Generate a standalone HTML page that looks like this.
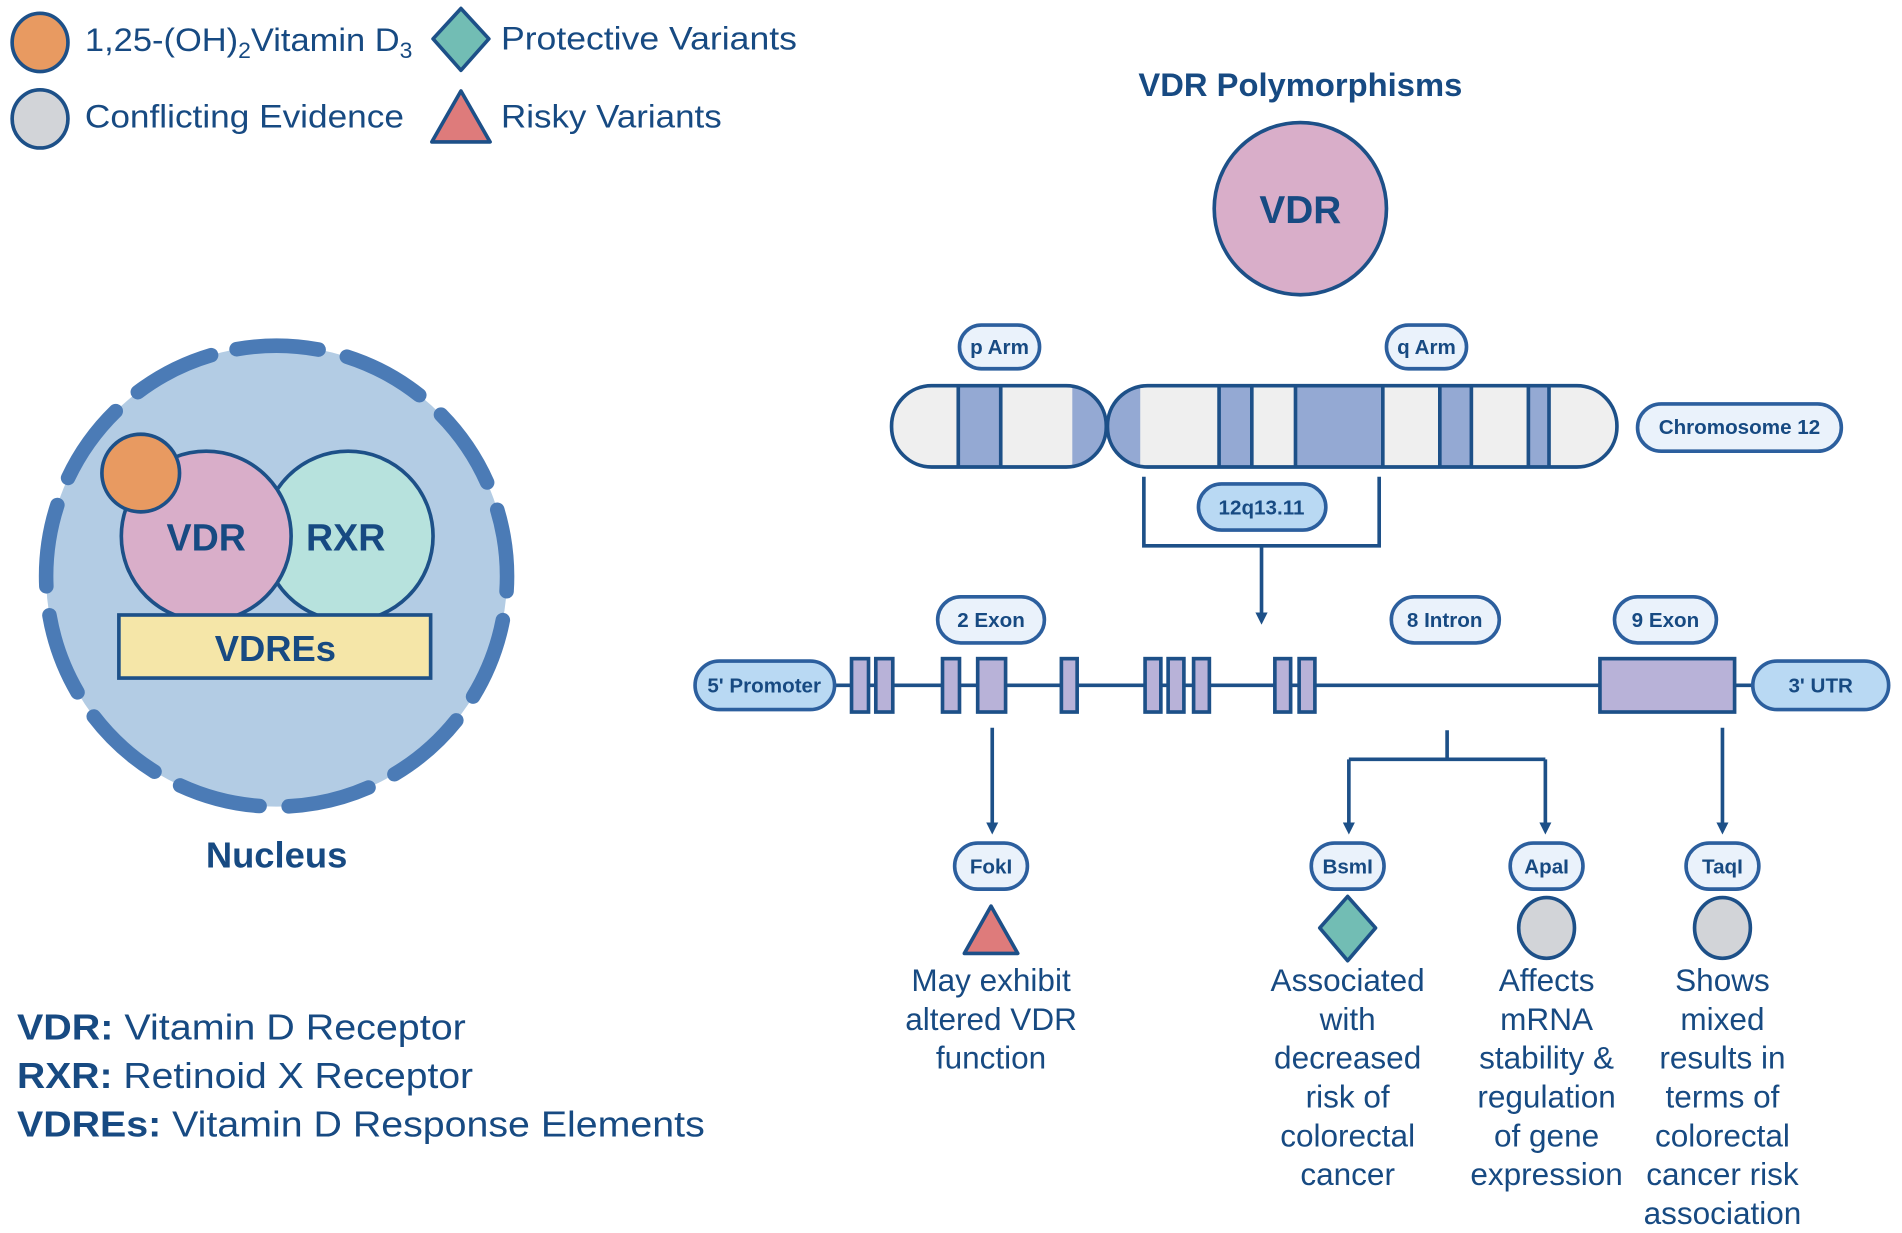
<!DOCTYPE html>
<html><head><meta charset="utf-8"><style>
html,body{margin:0;padding:0;background:#fff;}
svg{display:block;}
text{font-family:"Liberation Sans",sans-serif;fill:#174a82;}
.b{font-weight:bold;}
.pill{fill:#eaf2fb;stroke:#2c5f9e;stroke-width:3;}
.pillb{fill:#b9d9f3;stroke:#2c5f9e;stroke-width:3;}
.ln{stroke:#1d5088;stroke-width:3;fill:none;}
.ex{fill:#b8b2d8;stroke:#1d5088;stroke-width:3;}
.pl{font-size:17px;font-weight:bold;text-anchor:middle;}
.d{font-size:26px;text-anchor:middle;}
</style></head><body>
<svg width="1902" height="1233" viewBox="0 0 1568 1016.5" xmlns="http://www.w3.org/2000/svg">
<defs><marker id="ar" markerWidth="10" markerHeight="10" refX="5" refY="5" orient="auto" markerUnits="userSpaceOnUse" viewBox="0 0 10 10"><path d="M0,0 L10,5 L0,10z" fill="#1d5088"/></marker></defs>
<!-- legend -->
<ellipse cx="33" cy="35" rx="23" ry="24" fill="#e89a61" stroke="#1d5088" stroke-width="3"/>
<text x="70" y="42" font-size="27" textLength="270" lengthAdjust="spacingAndGlyphs">1,25-(OH)<tspan font-size="18" dy="6">2</tspan><tspan dy="-6">Vitamin D</tspan><tspan font-size="18" dy="6">3</tspan></text>
<path d="M380,7 L403,32 L380,58 L357,32z" fill="#72bdb4" stroke="#1d5088" stroke-width="3" stroke-linejoin="round"/>
<text x="413" y="41" font-size="27" textLength="244" lengthAdjust="spacingAndGlyphs">Protective Variants</text>
<ellipse cx="33" cy="98" rx="23" ry="24" fill="#d2d4d8" stroke="#1d5088" stroke-width="3"/>
<text x="70" y="105" font-size="27" textLength="263" lengthAdjust="spacingAndGlyphs">Conflicting Evidence</text>
<path d="M380,75 L404,117 L356,117z" fill="#de7b7b" stroke="#1d5088" stroke-width="3" stroke-linejoin="round"/>
<text x="413" y="105" font-size="27" textLength="182" lengthAdjust="spacingAndGlyphs">Risky Variants</text>
<!-- nucleus -->
<circle cx="228" cy="475" r="190" fill="#b3cce4"/>
<circle cx="228" cy="475" r="190" fill="none" stroke="#4b7bb6" stroke-width="12" stroke-linecap="round" stroke-dasharray="68 24" transform="rotate(-100 228 475)"/>
<circle cx="287" cy="442" r="70" fill="#b7e2dd" stroke="#1d5088" stroke-width="3"/>
<circle cx="170" cy="442" r="70" fill="#d9aec9" stroke="#1d5088" stroke-width="3"/>
<circle cx="116" cy="390" r="32" fill="#e89a61" stroke="#1d5088" stroke-width="3"/>
<rect x="98" y="507" width="257" height="52" fill="#f5e6a8" stroke="#1d5088" stroke-width="3"/>
<text class="b" x="170" y="454" font-size="31" text-anchor="middle">VDR</text>
<text class="b" x="285" y="454" font-size="31" text-anchor="middle">RXR</text>
<text class="b" x="227" y="545" font-size="30" text-anchor="middle">VDREs</text>
<text class="b" x="228" y="715" font-size="30" text-anchor="middle">Nucleus</text>
<text x="14" y="857" font-size="30" textLength="370" lengthAdjust="spacingAndGlyphs"><tspan class="b">VDR:</tspan> Vitamin D Receptor</text>
<text x="14" y="897" font-size="30" textLength="376" lengthAdjust="spacingAndGlyphs"><tspan class="b">RXR:</tspan> Retinoid X Receptor</text>
<text x="14" y="937" font-size="30" textLength="567" lengthAdjust="spacingAndGlyphs"><tspan class="b">VDREs:</tspan> Vitamin D Response Elements</text>
<!-- right -->
<text class="b" x="1072" y="79" font-size="27" text-anchor="middle">VDR Polymorphisms</text>
<circle cx="1072" cy="172" r="71" fill="#d9aec9" stroke="#1d5088" stroke-width="3"/>
<text class="b" x="1072" y="184" font-size="32" text-anchor="middle">VDR</text>
<rect class="pill" x="791" y="268" width="66" height="36" rx="18"/><text class="pl" x="824" y="292">p Arm</text>
<rect class="pill" x="1143" y="268" width="66" height="36" rx="18"/><text class="pl" x="1176" y="292">q Arm</text>
<clipPath id="cp"><rect x="735" y="318" width="177" height="67" rx="33"/></clipPath>
<clipPath id="cq"><rect x="913" y="318" width="420" height="67" rx="33"/></clipPath>
<g clip-path="url(#cp)"><rect x="735" y="318" width="177" height="67" fill="#efefef"/>
<rect x="790" y="318" width="35" height="67" fill="#94a9d3"/><rect x="884" y="318" width="28" height="67" fill="#94a9d3"/>
<path d="M790,318V385M825,318V385" class="ln"/></g>
<g clip-path="url(#cq)"><rect x="913" y="318" width="420" height="67" fill="#efefef"/>
<rect x="913" y="318" width="27" height="67" fill="#94a9d3"/>
<rect x="1005" y="318" width="27" height="67" fill="#94a9d3"/>
<rect x="1068" y="318" width="72" height="67" fill="#94a9d3"/>
<rect x="1187" y="318" width="26" height="67" fill="#94a9d3"/>
<rect x="1260" y="318" width="17" height="67" fill="#94a9d3"/>
<path d="M1005,318V385M1032,318V385M1068,318V385M1140,318V385M1187,318V385M1213,318V385M1260,318V385M1277,318V385" class="ln"/></g>
<rect x="735" y="318" width="177" height="67" rx="33" fill="none" stroke="#1d5088" stroke-width="3"/>
<rect x="913" y="318" width="420" height="67" rx="33" fill="none" stroke="#1d5088" stroke-width="3"/>
<rect class="pill" x="1350" y="333" width="168" height="39" rx="19.5"/><text class="pl" x="1434" y="358">Chromosome 12</text>
<path d="M943,393V450H1137V393" class="ln"/>
<path d="M1040,450V510" class="ln" marker-end="url(#ar)"/>
<rect class="pillb" x="988" y="399" width="105" height="38" rx="19"/><text class="pl" x="1040" y="424">12q13.11</text>
<path d="M688,565H1445" class="ln"/>
<rect class="pillb" x="573" y="545" width="115" height="40" rx="20"/><text class="pl" x="630" y="571">5' Promoter</text>
<rect class="pillb" x="1445" y="545" width="112" height="40" rx="20"/><text class="pl" x="1501" y="571">3' UTR</text>
<g class="ex">
<rect x="702" y="543" width="14" height="44"/><rect x="722" y="543" width="14" height="44"/>
<rect x="777" y="543" width="14" height="44"/><rect x="806" y="543" width="23" height="44"/>
<rect x="875" y="543" width="13" height="44"/><rect x="944" y="543" width="13" height="44"/>
<rect x="963" y="543" width="13" height="44"/><rect x="984" y="543" width="13" height="44"/>
<rect x="1051" y="543" width="13" height="44"/><rect x="1071" y="543" width="13" height="44"/>
<rect x="1319" y="543" width="111" height="44"/></g>
<rect class="pill" x="773" y="492" width="88" height="38" rx="19"/><text class="pl" x="817" y="517">2 Exon</text>
<rect class="pill" x="1147" y="492" width="89" height="38" rx="19"/><text class="pl" x="1191" y="517">8 Intron</text>
<rect class="pill" x="1331" y="492" width="84" height="38" rx="19"/><text class="pl" x="1373" y="517">9 Exon</text>
<path d="M818,600V683" class="ln" marker-end="url(#ar)"/>
<path d="M1193,602V626M1112,626H1274" class="ln"/>
<path d="M1112,626V683" class="ln" marker-end="url(#ar)"/>
<path d="M1274,626V683" class="ln" marker-end="url(#ar)"/>
<path d="M1420,600V683" class="ln" marker-end="url(#ar)"/>
<rect class="pill" x="787" y="695" width="60" height="38" rx="19"/><text class="pl" x="817" y="720">FokI</text>
<rect class="pill" x="1081" y="695" width="60" height="38" rx="19"/><text class="pl" x="1111" y="720">BsmI</text>
<rect class="pill" x="1245" y="695" width="60" height="38" rx="19"/><text class="pl" x="1275" y="720">ApaI</text>
<rect class="pill" x="1390" y="695" width="60" height="38" rx="19"/><text class="pl" x="1420" y="720">TaqI</text>
<path d="M817,747 L839,786 L795,786z" fill="#de7b7b" stroke="#1d5088" stroke-width="3" stroke-linejoin="round"/>
<path d="M1111,739 L1134,765 L1111,792 L1088,765z" fill="#72bdb4" stroke="#1d5088" stroke-width="3" stroke-linejoin="round"/>
<ellipse cx="1275" cy="765" rx="23" ry="25" fill="#d2d4d8" stroke="#1d5088" stroke-width="3"/>
<ellipse cx="1420" cy="765" rx="23" ry="25" fill="#d2d4d8" stroke="#1d5088" stroke-width="3"/>
<text class="d"><tspan x="817" y="817">May exhibit</tspan><tspan x="817" y="849">altered VDR</tspan><tspan x="817" y="881">function</tspan></text>
<text class="d"><tspan x="1111" y="817">Associated</tspan><tspan x="1111" y="849">with</tspan><tspan x="1111" y="881">decreased</tspan><tspan x="1111" y="913">risk of</tspan><tspan x="1111" y="945">colorectal</tspan><tspan x="1111" y="977">cancer</tspan></text>
<text class="d"><tspan x="1275" y="817">Affects</tspan><tspan x="1275" y="849">mRNA</tspan><tspan x="1275" y="881">stability &amp;</tspan><tspan x="1275" y="913">regulation</tspan><tspan x="1275" y="945">of gene</tspan><tspan x="1275" y="977">expression</tspan></text>
<text class="d"><tspan x="1420" y="817">Shows</tspan><tspan x="1420" y="849">mixed</tspan><tspan x="1420" y="881">results in</tspan><tspan x="1420" y="913">terms of</tspan><tspan x="1420" y="945">colorectal</tspan><tspan x="1420" y="977">cancer risk</tspan><tspan x="1420" y="1009">association</tspan></text>
</svg>
</body></html>
